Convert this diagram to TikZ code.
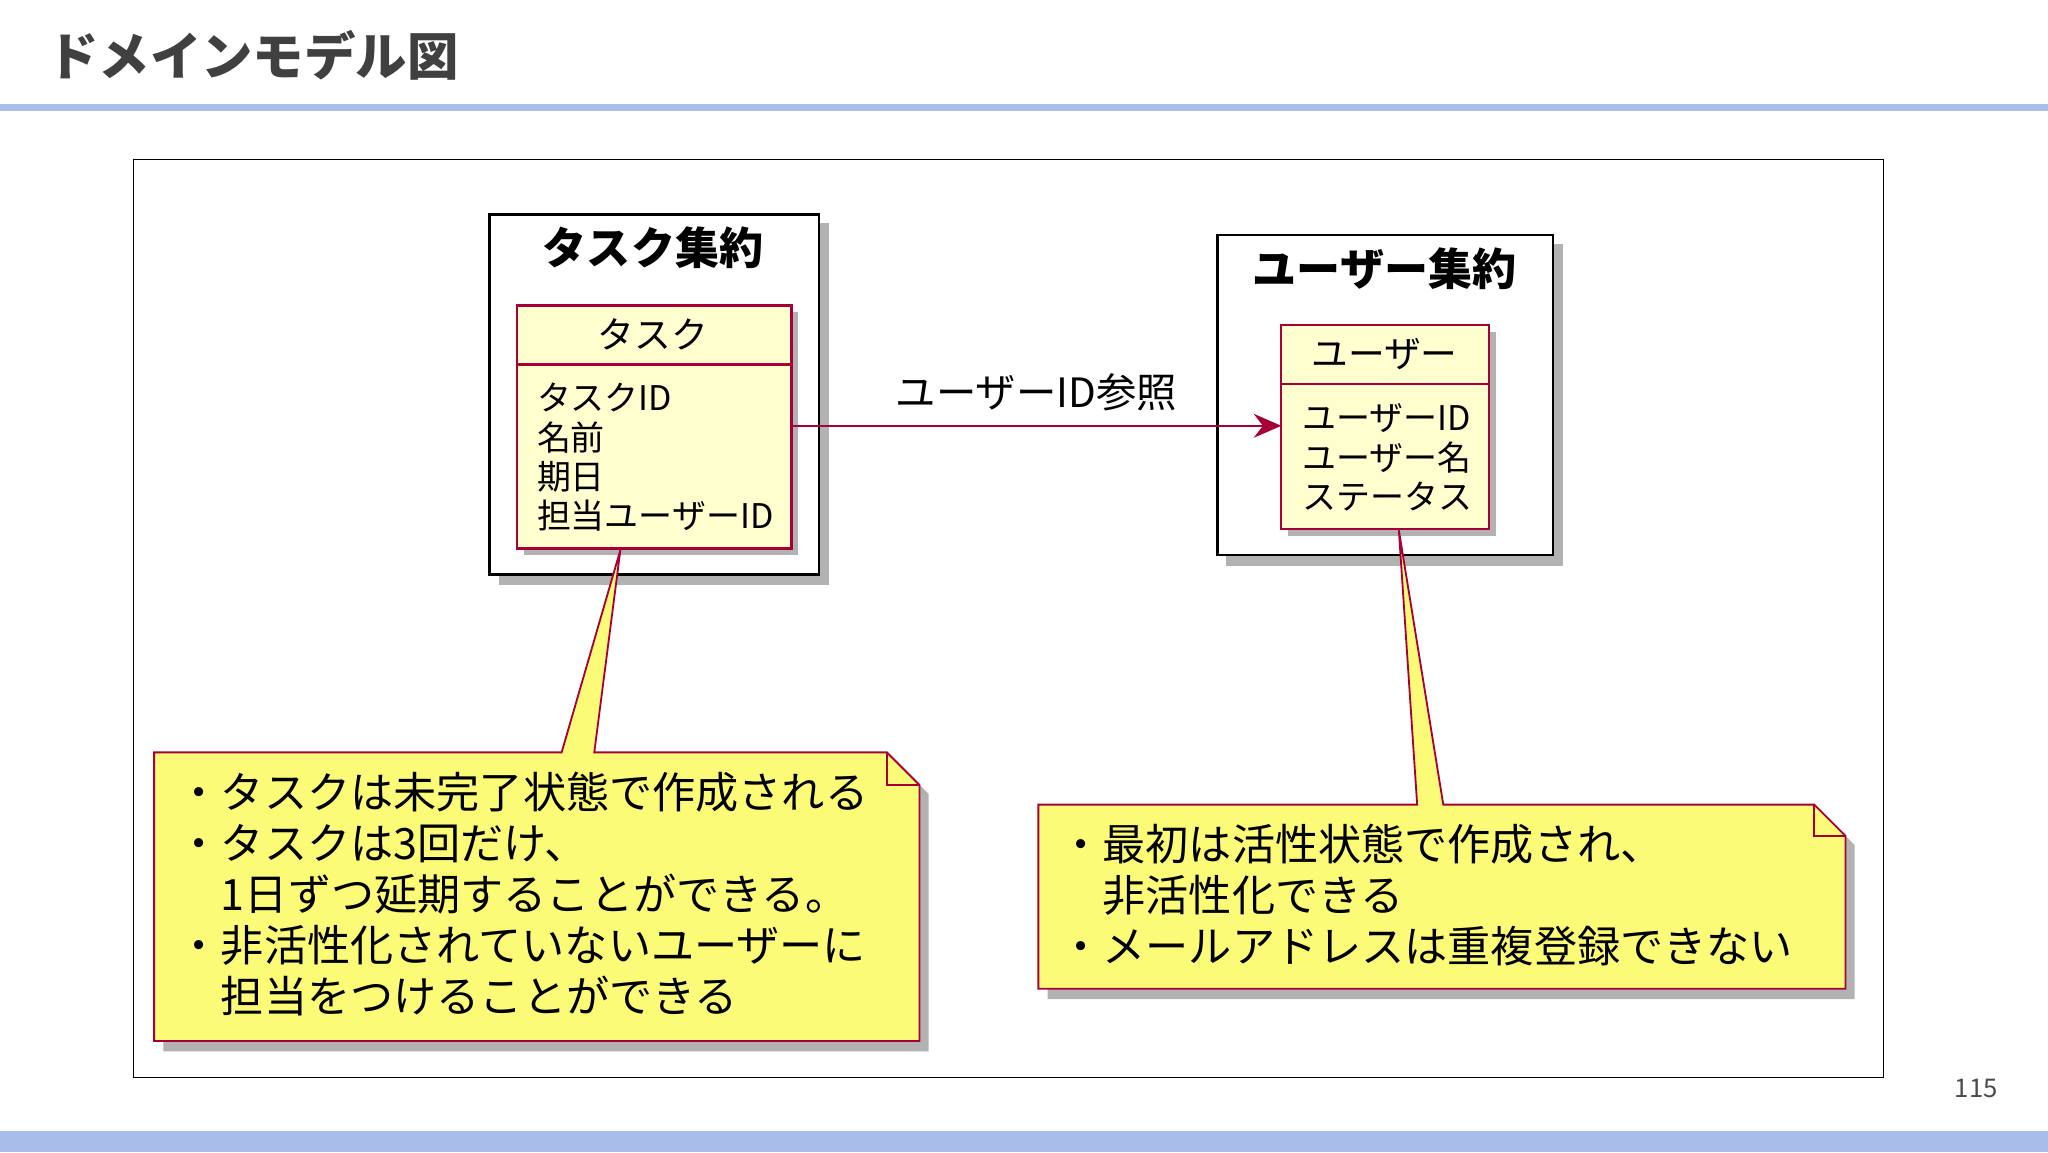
\documentclass[tikz,border=0pt]{standalone}
\usepackage{fontspec}
\setmainfont{Noto Sans CJK JP}
\usetikzlibrary{arrows.meta}
\definecolor{bar}{HTML}{A9BDEB}
\definecolor{pu}{HTML}{A80036}
\definecolor{cls}{HTML}{FEFECE}
\definecolor{nt}{HTML}{FBFB77}
\definecolor{ttl}{HTML}{404040}
\tikzset{
 agg/.style={draw=black,line width=3pt,fill=white},
 clsbox/.style={draw=pu,line width=2.5pt,fill=cls},
 notebox/.style={draw=pu,line width=2pt,fill=nt},
 shd/.style={fill=black!30,draw=none},
 txt/.style={inner sep=0pt,anchor=west,font=\fontsize{37}{40}\selectfont},
 ntxt/.style={inner sep=0pt,anchor=north west,align=left,font=\fontsize{47}{55.5}\selectfont},
}
\begin{document}
\begin{tikzpicture}[x=0.05cm,y=-0.05cm]
\useasboundingbox (0,0) rectangle (1568,882);
\fill[white] (0,0) rectangle (1568,882);
\node[inner sep=0pt,anchor=west,text=ttl,font=\fontsize{56}{60}\selectfont\bfseries] (title) at (36,42) {ドメインモデル図};
\fill[bar] (0,80) rectangle (1568,85);
\fill[bar] (0,866) rectangle (1568,882);
\node[inner sep=0pt,text=black!70,font=\fontsize{28}{30}\selectfont] (pg) at (1513,833) {115};
\draw[line width=1.2pt] (102,122) rectangle (1442,825);
% shadows
\fill[shd] (382,171) rectangle (635,448);
\fill[shd] (939,187) rectangle (1197,433);
\fill[shd] (125,583) -- (686,583) -- (711,608) -- (711,805) -- (125,805) -- cycle;
\fill[shd] (802,623) -- (1396,623) -- (1420,647) -- (1420,765) -- (802,765) -- cycle;
% aggregates
\draw[agg] (375,164) rectangle (627,440);
\node[font=\fontsize{48}{50}\selectfont\bfseries] (t1) at (500,190) {タスク集約};
\draw[agg] (932,180) rectangle (1189,425);
\node[font=\fontsize{48}{50}\selectfont\bfseries] (t2) at (1060,206) {ユーザー集約};
% classes
\fill[shd] (401,239) rectangle (611,425);
\draw[clsbox] (396,234) rectangle (606,420);
\draw[pu,line width=2.5pt] (396,279) -- (606,279);
\node[font=\fontsize{40}{40}\selectfont] (c1) at (500,256) {タスク};
\node[txt] at (411,304) {タスクID};
\node[txt] at (411,335) {名前};
\node[txt] at (411,365) {期日};
\node[txt] at (411,395) {担当ユーザーID};
\fill[shd] (986,254) rectangle (1145,410);
\draw[clsbox] (981,249) rectangle (1140,405);
\draw[pu,line width=2.5pt] (981,294) -- (1140,294);
\node[font=\fontsize{40}{40}\selectfont] (c2) at (1060,271) {ユーザー};
\node[txt] at (997,320) {ユーザーID};
\node[txt] at (997,350) {ユーザー名};
\node[txt] at (997,380) {ステータス};
\coordinate (a1) at (606,326);
\coordinate (a2) at (981,326);
\draw[pu,line width=2.5pt,-{Stealth[length=30pt,width=26pt,inset=10pt]}] (a1) -- (a2) node[midway,above=12pt,black,font=\fontsize{44}{44}\selectfont] {ユーザーID参照};
% note 1
\coordinate (p1) at (475,421);
\draw[notebox] (118,576) -- (430,576) -- (p1) -- (455,576) -- (679,576) -- (704,601) -- (704,797) -- (118,797) -- cycle;
\draw[pu,line width=2pt] (679,576) -- (679,601) -- (704,601);
\node[ntxt] (n1) at (136,591) {・タスクは未完了状態で作成される\\・タスクは3回だけ、\\　1日ずつ延期することができる。\\・非活性化されていないユーザーに\\　担当をつけることができる};
% note 2
\coordinate (p2) at (1071,406);
\draw[notebox] (795,616) -- (1085,616) -- (p2) -- (1105,616) -- (1389,616) -- (1413,640) -- (1413,757) -- (795,757) -- cycle;
\draw[pu,line width=2pt] (1389,616) -- (1389,640) -- (1413,640);
\node[ntxt] (n2) at (811,631) {・最初は活性状態で作成され、\\　非活性化できる\\・メールアドレスは重複登録できない};
\end{tikzpicture}
\end{document}
